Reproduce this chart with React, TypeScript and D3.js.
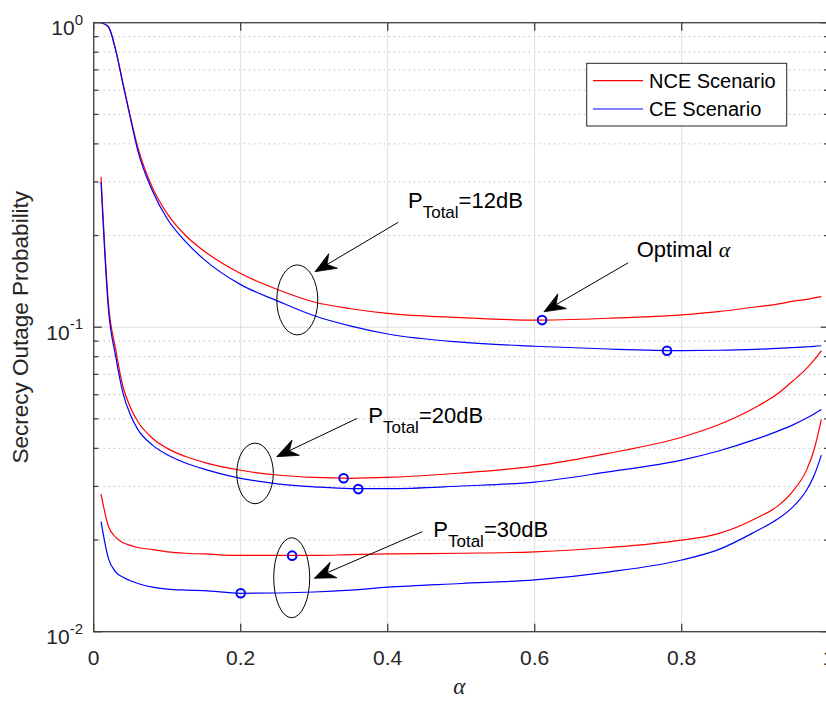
import React from 'react';
import * as d3 from 'd3';

// ---------- data ----------
const alpha = [0.01, 0.02, 0.03, 0.04, 0.05, 0.06, 0.08, 0.1, 0.125, 0.15, 0.2, 0.25, 0.3, 0.35, 0.4, 0.5, 0.6, 0.7, 0.8, 0.85, 0.9, 0.93, 0.95, 0.97, 0.98, 0.99];

const nce12 = [0.9999, 0.97, 0.814, 0.63, 0.49, 0.39, 0.287, 0.236, 0.2, 0.178, 0.15, 0.133, 0.121, 0.115, 0.111, 0.1075, 0.1055, 0.107, 0.1098, 0.1125, 0.1165, 0.119, 0.1215, 0.1235, 0.1248, 0.126];
const ce12 = [0.9999, 0.97, 0.81, 0.625, 0.485, 0.38, 0.28, 0.227, 0.191, 0.167, 0.138, 0.122, 0.109, 0.1008, 0.095, 0.0893, 0.0866, 0.0848, 0.0838, 0.084, 0.0846, 0.0852, 0.0857, 0.0862, 0.0865, 0.0869];
const nce20 = [0.312, 0.12, 0.0842, 0.0635, 0.0545, 0.049, 0.0432, 0.04, 0.0376, 0.036, 0.0339, 0.0327, 0.0321, 0.0319, 0.0321, 0.0332, 0.035, 0.0385, 0.0435, 0.0478, 0.0545, 0.0603, 0.0662, 0.0732, 0.078, 0.0837];
const ce20 = [0.3, 0.115, 0.08, 0.0605, 0.0515, 0.0462, 0.041, 0.0381, 0.0358, 0.0342, 0.0319, 0.0306, 0.0299, 0.0295, 0.0295, 0.0301, 0.031, 0.0335, 0.0366, 0.0392, 0.0428, 0.0455, 0.0476, 0.0503, 0.0519, 0.0537];
const nce30 = [0.0283, 0.0222, 0.0204, 0.0196, 0.0192, 0.0189, 0.0186, 0.0183, 0.0181, 0.018, 0.0178, 0.0178, 0.0178, 0.0179, 0.018, 0.0181, 0.0183, 0.0189, 0.02, 0.021, 0.0235, 0.0258, 0.0287, 0.034, 0.0395, 0.0498];
const ce30 = [0.023, 0.0174, 0.0157, 0.0151, 0.0147, 0.0144, 0.014, 0.0138, 0.0137, 0.01365, 0.01337, 0.0134, 0.0135, 0.0137, 0.014, 0.0144, 0.0148, 0.0157, 0.0172, 0.0186, 0.0213, 0.0234, 0.0255, 0.0292, 0.0325, 0.038];

const nceSeries = [nce12, nce20, nce30];
const ceSeries = [ce12, ce20, ce30];

const optimalAlpha = [0.61, 0.78, 0.34, 0.36, 0.27, 0.2];
const optimalValue = [0.1055, 0.0837, 0.0319, 0.0294, 0.01777, 0.01337];

const xTicks = [0, 0.2, 0.4, 0.6, 0.8, 1];
const xTickLabels = ['0', '0.2', '0.4', '0.6', '0.8', '1'];
const yDecades = [0.01, 0.1, 1];
const yDecadeExp = ['-2', '-1', '0'];

const legendLabels = ['NCE Scenario', 'CE Scenario'];
const seriesColors = ['#ff0000', '#0000ff'];

// annotations in data coordinates
const ellipseAlpha = [0.277, 0.2195, 0.2694];
const ellipseValue = [0.1229, 0.0331, 0.01504];
const ellipseRx = [20.5, 18.3, 18];
const ellipseRy = [35, 30.3, 40];

const arrowFromAlpha = [0.4144, 0.7273, 0.3586, 0.4471];
const arrowFromValue = [0.2211, 0.1628, 0.0502, 0.0213];
const arrowToAlpha = [0.3011, 0.6126, 0.249, 0.3001];
const arrowToValue = [0.1522, 0.1124, 0.03756, 0.01498];

const powerLabels = ['=12dB', '=20dB', '=30dB'];
const powerLabelAlpha = [0.4276, 0.3736, 0.462];
const powerLabelValue = [0.2459, 0.04835, 0.02051];
const optimalLabelAlpha = 0.7388;
const optimalLabelValue = 0.1704;

// ---------- layout ----------
const W = 826;
const H = 702;
const left = 93.7;
const right = 828.7;
const top = 22.7;
const bottom = 631.7;
const FONT = 'Liberation Sans, Arial, Helvetica, sans-serif';
const SERIF = 'Liberation Serif, Times New Roman, serif';
const AXIS = '#404040';

export default function App() {
  const x = d3.scaleLinear().domain([0, 1]).range([left, right]);
  const y = d3.scaleLog().domain([0.01, 1]).range([bottom, top]);

  const line = d3
    .line<number>()
    .x((_, i) => x(alpha[i]))
    .y((d) => y(d))
    .curve(d3.curveMonotoneX);

  const minorVals: number[] = [];
  [0.01, 0.1].forEach((dec) => {
    for (let k = 2; k <= 9; k++) minorVals.push(dec * k);
  });

  const arrows = arrowFromAlpha.map((_, i) => {
    const x1 = x(arrowFromAlpha[i]);
    const y1 = y(arrowFromValue[i]);
    const x2 = x(arrowToAlpha[i]);
    const y2 = y(arrowToValue[i]);
    const dx = x2 - x1;
    const dy = y2 - y1;
    const len = Math.hypot(dx, dy);
    const ux = dx / len;
    const uy = dy / len;
    const px = -uy;
    const py = ux;
    const L = 21;
    const Wd = 8.5;
    const N = 14;
    const bx = x2 - ux * L;
    const by = y2 - uy * L;
    const nx = x2 - ux * N;
    const ny = y2 - uy * N;
    const head = `M${x2},${y2} L${bx + px * Wd},${by + py * Wd} L${nx},${ny} L${bx - px * Wd},${by - py * Wd} Z`;
    return { x1, y1, nx, ny, head };
  });

  return (
    <svg
      width={W}
      height={H}
      style={{ position: 'absolute', left: 0, top: 0, background: '#fff' }}
      fontFamily={FONT}
    >
      <defs>
        <clipPath id="plotClip">
          <rect x={left} y={top} width={right - left} height={bottom - top} />
        </clipPath>
      </defs>
      <rect x={0} y={0} width={W} height={H} fill="#fff" />

      {/* minor y grid (dotted) */}
      {minorVals.map((v, i) => (
        <line
          key={'mg' + i}
          x1={left}
          x2={right}
          y1={y(v)}
          y2={y(v)}
          stroke="#bdbdbd"
          strokeWidth={1}
          strokeDasharray="1.5,3.5"
        />
      ))}
      {/* major y grid */}
      {yDecades.map((v, i) => (
        <line key={'yg' + i} x1={left} x2={right} y1={y(v)} y2={y(v)} stroke="#dedede" strokeWidth={1} />
      ))}
      {/* major x grid */}
      {xTicks.map((t, i) => (
        <line key={'xg' + i} x1={x(t)} x2={x(t)} y1={top} y2={bottom} stroke="#dedede" strokeWidth={1} />
      ))}

      {/* curves */}
      <g clipPath="url(#plotClip)">
        {nceSeries.map((s, i) => (
          <path key={'n' + i} d={line(s) || ''} fill="none" stroke={seriesColors[0]} strokeWidth={1.2} />
        ))}
        {ceSeries.map((s, i) => (
          <path key={'c' + i} d={line(s) || ''} fill="none" stroke={seriesColors[1]} strokeWidth={1.2} />
        ))}
      </g>

      {/* optimal markers */}
      {optimalAlpha.map((a, i) => (
        <circle key={'o' + i} cx={x(a)} cy={y(optimalValue[i])} r={4.3} fill="none" stroke="#0000ff" strokeWidth={2} />
      ))}

      {/* axes box */}
      <rect x={left} y={top} width={right - left} height={bottom - top} fill="none" stroke={AXIS} strokeWidth={1.3} />

      {/* x ticks */}
      {xTicks.map((t, i) => (
        <g key={'xt' + i}>
          <line x1={x(t)} x2={x(t)} y1={bottom} y2={bottom - 8} stroke={AXIS} strokeWidth={1.3} />
          <line x1={x(t)} x2={x(t)} y1={top} y2={top + 8} stroke={AXIS} strokeWidth={1.3} />
          <text x={x(t)} y={665} textAnchor="middle" fontSize={21} fill="#262626">
            {xTickLabels[i]}
          </text>
        </g>
      ))}

      {/* y ticks */}
      {yDecades.map((v, i) => (
        <g key={'yt' + i}>
          <line x1={left} x2={left + 8} y1={y(v)} y2={y(v)} stroke={AXIS} strokeWidth={1.3} />
          <line x1={right} x2={right - 8} y1={y(v)} y2={y(v)} stroke={AXIS} strokeWidth={1.3} />
          <text x={83} y={y(v) + 12.3} textAnchor="end" fontSize={21} fill="#262626">
            10
            <tspan fontSize={15} dy={-10.5}>
              {yDecadeExp[i]}
            </tspan>
          </text>
        </g>
      ))}
      {minorVals.map((v, i) => (
        <g key={'ymt' + i}>
          <line x1={left} x2={left + 4.5} y1={y(v)} y2={y(v)} stroke={AXIS} strokeWidth={1.3} />
          <line x1={right} x2={right - 4.5} y1={y(v)} y2={y(v)} stroke={AXIS} strokeWidth={1.3} />
        </g>
      ))}

      {/* axis labels */}
      <text x={(left + right) / 2 - 2} y={694} textAnchor="middle" fontSize={23} fontStyle="italic" fontFamily={SERIF} fill="#262626">
        α
      </text>
      <text
        transform={`translate(28,${(top + bottom) / 2}) rotate(-90)`}
        textAnchor="middle"
        fontSize={22.5}
        fill="#262626"
      >
        Secrecy Outage Probability
      </text>

      {/* legend */}
      <g>
        <rect x={586.7} y={63.3} width={200} height={62.7} fill="#fff" stroke="#262626" strokeWidth={1} />
        {legendLabels.map((lab, i) => (
          <g key={'lg' + i}>
            <line x1={593} x2={643} y1={80.7 + i * 28.3} y2={80.7 + i * 28.3} stroke={seriesColors[i]} strokeWidth={1.2} />
            <text x={649} y={80.7 + i * 28.3 + 7} fontSize={20} fill="#000">
              {lab}
            </text>
          </g>
        ))}
      </g>

      {/* ellipses */}
      {ellipseAlpha.map((a, i) => (
        <ellipse
          key={'el' + i}
          cx={x(a)}
          cy={y(ellipseValue[i])}
          rx={ellipseRx[i]}
          ry={ellipseRy[i]}
          fill="none"
          stroke="#000"
          strokeWidth={1}
        />
      ))}

      {/* arrows */}
      {arrows.map((ar, i) => (
        <g key={'ar' + i}>
          <line x1={ar.x1} y1={ar.y1} x2={ar.nx} y2={ar.ny} stroke="#000" strokeWidth={1} />
          <path d={ar.head} fill="#000" stroke="#000" strokeWidth={0.8} strokeLinejoin="miter" />
        </g>
      ))}

      {/* annotation texts */}
      {powerLabels.map((lab, i) => (
        <text key={'pl' + i} x={x(powerLabelAlpha[i])} y={y(powerLabelValue[i])} fontSize={22} fill="#000">
          P
          <tspan fontSize={17} dy={10}>
            Total
          </tspan>
          <tspan fontSize={22} dy={-10}>
            {lab}
          </tspan>
        </text>
      ))}
      <text x={x(optimalLabelAlpha)} y={y(optimalLabelValue)} fontSize={22} fill="#000">
        Optimal{' '}
        <tspan fontFamily={SERIF} fontStyle="italic">
          α
        </tspan>
      </text>
    </svg>
  );
}
